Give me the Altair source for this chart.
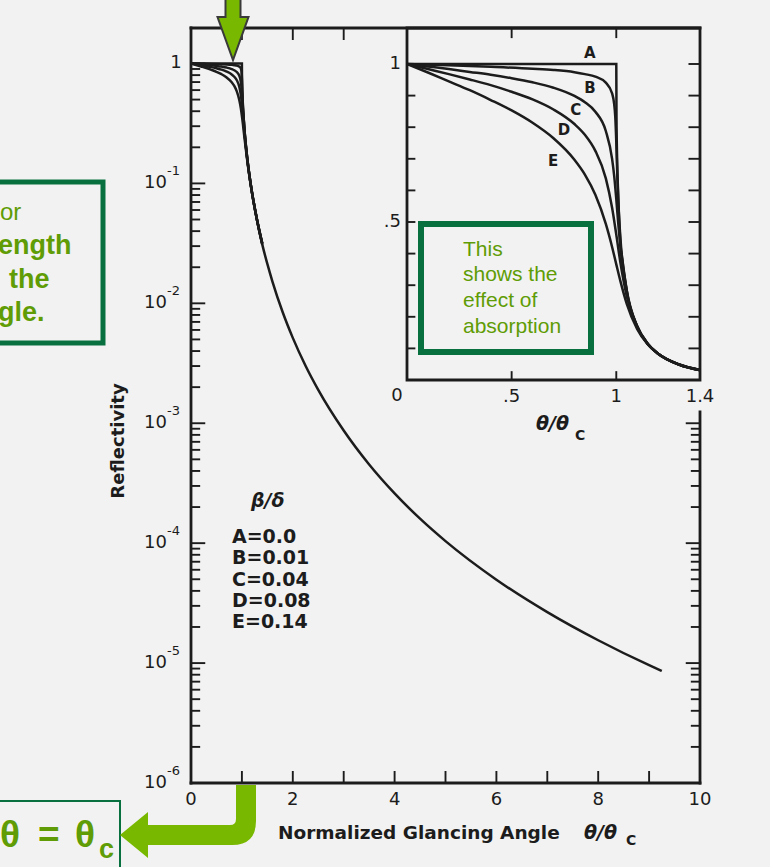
import altair as alt
import pandas as pd

# ---------------------------------------------------------------------------
# Page / plot-area geometry (pixels) and styling
# ---------------------------------------------------------------------------
PAD_L, PAD_T, W, H = 191, 28, 509, 755
INK = "#1c1c1c"
PAPER = "#f2f2f2"
LIME = "#78b800"
TEXT_GREEN = "#5f9c05"
BOX_GREEN = "#08703f"
FIG_FONT = "DejaVu Sans"
NOTE_FONT = "Liberation Sans"
LINE_W = 2.5
FRAME_W = 2.8
TICK_W = 1.9

# ---------------------------------------------------------------------------
# Reflectivity R vs normalized glancing angle theta/theta_c
# (one curve per absorption ratio beta/delta)
# ---------------------------------------------------------------------------
A_THETA = [0.0, 0.5, 1.0, 1.001, 1.003, 1.005, 1.01, 1.02, 1.03, 1.05, 1.1, 1.15, 1.2, 1.3, 1.4]
A_R = [1.0, 1.0, 1.0, 0.83, 0.73, 0.67, 0.57, 0.43, 0.376, 0.284, 0.170, 0.115, 0.083, 0.0487, 0.031]

B_THETA = [0.0, 0.2, 0.4, 0.6, 0.7, 0.8, 0.85, 0.9, 0.95, 0.98, 0.99, 0.995, 1.0, 1.005, 1.01,
           1.02, 1.05, 1.1, 1.15, 1.2, 1.3, 1.4]
B_R = [1.0, 0.996, 0.991, 0.985, 0.981, 0.974, 0.968, 0.960, 0.941, 0.907, 0.873, 0.835, 0.754,
       0.645, 0.559, 0.447, 0.283, 0.170, 0.115, 0.083, 0.0485, 0.031]

C_THETA = [0.0, 0.1, 0.2, 0.3, 0.4, 0.5, 0.6, 0.7, 0.8, 0.85, 0.9, 0.95, 0.98, 0.99, 1.0, 1.01,
           1.02, 1.05, 1.1, 1.15, 1.2, 1.3, 1.4]
C_R = [1.0, 0.992, 0.984, 0.975, 0.966, 0.955, 0.942, 0.925, 0.899, 0.879, 0.849, 0.788, 0.700,
       0.646, 0.572, 0.491, 0.419, 0.278, 0.169, 0.115, 0.0835, 0.049, 0.0315]

D_THETA = [0.0, 0.1, 0.2, 0.3, 0.4, 0.5, 0.6, 0.7, 0.8, 0.85, 0.9, 0.95, 0.98, 1.0, 1.02, 1.05,
           1.1, 1.15, 1.2, 1.3, 1.4]
D_R = [1.0, 0.984, 0.968, 0.951, 0.933, 0.912, 0.888, 0.856, 0.810, 0.776, 0.725, 0.638, 0.545,
       0.460, 0.370, 0.265, 0.166, 0.114, 0.083, 0.049, 0.0315]

E_THETA = [0.0, 0.1, 0.2, 0.3, 0.4, 0.5, 0.6, 0.7, 0.8, 0.85, 0.9, 0.95, 0.98, 1.0, 1.02, 1.05,
           1.1, 1.15, 1.2, 1.3, 1.4]
E_R = [1.0, 0.973, 0.945, 0.917, 0.886, 0.853, 0.814, 0.765, 0.697, 0.650, 0.586, 0.494, 0.421,
       0.366, 0.312, 0.241, 0.161, 0.113, 0.083, 0.049, 0.0316]

# beyond theta ~1.4 all curves coincide
TAIL_THETA = [1.4, 1.5, 1.6, 1.8, 2.0, 2.25, 2.5, 3.0, 3.5, 4.0, 4.5, 5.0, 6.0, 7.0, 8.0, 9.0, 9.25]
TAIL_R = [0.031, 0.0213, 0.0152, 0.00846, 0.00515, 0.00302, 0.0019, 0.00087, 0.000453, 0.00026,
          0.00016, 0.000104, 4.96e-5, 2.66e-5, 1.55e-5, 9.6e-6, 8.6e-6]

CURVES = ["A", "B", "C", "D", "E"]
BETA_DELTA = ["0.0", "0.01", "0.04", "0.08", "0.14"]

# axis tick labels
MAIN_X_LABELS = [0, 2, 4, 6, 8, 10]
MAIN_Y_EXPONENTS = [-1, -2, -3, -4, -5, -6]
INSET_X_LABELS = [".5", "1", "1.4"]
INSET_X_LABEL_AT = [0.5, 1.0, 1.4]

# curve-letter positions inside the inset (theta/theta_c, R)
LETTER_THETA = [0.874, 0.874, 0.806, 0.750, 0.698]
LETTER_R = [1.036, 0.924, 0.854, 0.791, 0.694]

# ---------------------------------------------------------------------------
# Scales: main log plot and linear inset sharing the same canvas
# ---------------------------------------------------------------------------
Y_TOP = 1.977
x_main = alt.Scale(domain=[0, 10], nice=False, zero=False)
y_main = alt.Scale(type="log", domain=[1e-6, Y_TOP], nice=False)
x_in = alt.Scale(domain=[0, 1.4], range=[216, 509], nice=False, zero=False)
y_in = alt.Scale(domain=[0, 1], range=[352, 36], nice=False, zero=False)
IN_TOP = 352 / 316.0  # inset frame top in R units

series = {"A": (A_THETA, A_R), "B": (B_THETA, B_R), "C": (C_THETA, C_R),
          "D": (D_THETA, D_R), "E": (E_THETA, E_R)}
near = pd.concat([pd.DataFrame({"curve": c, "theta": t, "R": r}) for c, (t, r) in series.items()],
                 ignore_index=True)
tail = pd.DataFrame({"curve": "A", "theta": TAIL_THETA[1:], "R": TAIL_R[1:]})
main_df = pd.concat([near, tail], ignore_index=True)

ONE = pd.DataFrame({"k": [0]})


def note(text, px, py, size, color=INK, font=FIG_FONT, weight="normal", align="left",
         style="normal", angle=0, baseline="middle"):
    """Free text placed at absolute page pixel position."""
    kw = dict(text=text, fontSize=size, color=color, font=font, fontWeight=weight,
              align=align, baseline=baseline, fontStyle=style)
    if angle:
        kw["angle"] = angle
    return alt.Chart(ONE).mark_text(**kw).encode(
        x=alt.value(px - PAD_L), y=alt.value(py - PAD_T))


def box(px0, py0, px1, py1, color, width):
    return alt.Chart(ONE).mark_rect(fillOpacity=0, stroke=color, strokeWidth=width).encode(
        x=alt.value(px0 - PAD_L), x2=alt.value(px1 - PAD_L),
        y=alt.value(py0 - PAD_T), y2=alt.value(py1 - PAD_T))


def edge(x0, y0, x1, y1):
    """Straight frame segment in plot-area pixels."""
    return alt.Chart(ONE).mark_rule(color=INK, strokeWidth=FRAME_W, strokeCap="square").encode(
        x=alt.value(x0), x2=alt.value(x1), y=alt.value(y0), y2=alt.value(y1))


def arrow(path, px, py, stroke=None):
    kw = dict(shape=path, size=4, filled=True, fill=LIME, opacity=1, fillOpacity=1)
    if stroke:
        kw.update(stroke=stroke, strokeWidth=2, strokeOpacity=1)
    else:
        kw.update(strokeWidth=0)
    return alt.Chart(ONE).mark_point(**kw).encode(x=alt.value(px - PAD_L), y=alt.value(py - PAD_T))


# ---------------------------------------------------------------------------
# Main log-scale plot
# ---------------------------------------------------------------------------
main_lines = alt.Chart(main_df).mark_line(interpolate="monotone", color=INK, strokeWidth=LINE_W).encode(
    x=alt.X("theta:Q", scale=x_main, axis=None),
    y=alt.Y("R:Q", scale=y_main, axis=None),
    detail="curve:N",
)

log_vals, log_len = [], []
for k in range(-6, 1):
    for m in range(1, 10):
        v = m * 10.0 ** k
        if v <= 1.0 + 1e-9:
            log_vals.append(v)
            log_len.append(0.28 if m == 1 else 0.18)
ticks_df = pd.DataFrame({"v": log_vals, "len": log_len})
ticks_df["x0"] = 0.0
ticks_df["x1"] = ticks_df["len"]
right_df = ticks_df[ticks_df["v"] <= 1.001e-3].copy()
right_df["x0"] = 10.0
right_df["x1"] = 10.0 - right_df["len"]

left_ticks = alt.Chart(ticks_df).mark_rule(color=INK, strokeWidth=TICK_W).encode(
    y=alt.Y("v:Q", scale=y_main, axis=None),
    x=alt.X("x0:Q", scale=x_main, axis=None), x2="x1:Q")
right_ticks = alt.Chart(right_df).mark_rule(color=INK, strokeWidth=TICK_W).encode(
    y=alt.Y("v:Q", scale=y_main, axis=None),
    x=alt.X("x0:Q", scale=x_main, axis=None), x2="x1:Q")

top_ticks = alt.Chart(pd.DataFrame({"t": [1, 2, 3]})).mark_rule(color=INK, strokeWidth=TICK_W).encode(
    x=alt.X("t:Q", scale=x_main, axis=None), y=alt.value(0), y2=alt.value(12))
bottom_ticks = alt.Chart(pd.DataFrame({"t": list(range(1, 10))})).mark_rule(
    color=INK, strokeWidth=TICK_W).encode(
    x=alt.X("t:Q", scale=x_main, axis=None), y=alt.value(H), y2=alt.value(H - 12))

x_labels = alt.Chart(pd.DataFrame({"t": MAIN_X_LABELS, "lab": [str(v) for v in MAIN_X_LABELS]})).mark_text(
    font=FIG_FONT, fontSize=18, color=INK, baseline="middle", align="center").encode(
    x=alt.X("t:Q", scale=x_main, axis=None), y=alt.value(H + 17), text="lab:N")

ydec = pd.DataFrame({"v": [10.0 ** e for e in MAIN_Y_EXPONENTS],
                     "sup": [str(e) for e in MAIN_Y_EXPONENTS]})
y_tens = alt.Chart(ydec).mark_text(font=FIG_FONT, fontSize=18, color=INK, align="right",
                                   baseline="middle", text="10").encode(
    y=alt.Y("v:Q", scale=y_main, axis=None), x=alt.value(-24))
y_sups = alt.Chart(ydec).mark_text(font=FIG_FONT, fontSize=13, color=INK, align="left",
                                   baseline="middle", dy=-12).encode(
    y=alt.Y("v:Q", scale=y_main, axis=None), x=alt.value(-24), text="sup:N")
y_one = alt.Chart(pd.DataFrame({"v": [1.0]})).mark_text(
    font=FIG_FONT, fontSize=18, color=INK, align="center", baseline="middle", text="1").encode(
    y=alt.Y("v:Q", scale=y_main, axis=None), x=alt.value(-15))

# beta/delta key, one row per curve
legend = [note(f"{c}={b}", 232, 537 + 21.25 * i, 19, weight="bold")
          for i, (c, b) in enumerate(zip(CURVES, BETA_DELTA))]

frame = alt.layer(
    edge(0, 0, W, 0), edge(0, H, W, H), edge(0, 0, 0, H), edge(W, 384, W, H),
)

main_group = alt.layer(
    main_lines, left_ticks, right_ticks, top_ticks, bottom_ticks, frame,
    x_labels, y_tens, y_sups, y_one,
    note("Reflectivity", 119, 441, 18, weight="bold", align="center", angle=270),
    note("Normalized Glancing Angle", 278, 833, 18.5, weight="bold"),
    note("\u03b8/\u03b8", 584, 833, 19, weight="bold", style="italic"),
    note("C", 626, 841, 14, weight="bold"),
    note("\u03b2/\u03b4", 251, 501, 19, weight="bold", style="italic"),
    *legend,
)

# ---------------------------------------------------------------------------
# Inset: linear scale close to the critical angle
# ---------------------------------------------------------------------------
in_frame = alt.Chart(pd.DataFrame({"x0": [0.0], "x1": [1.4], "y0": [0.0], "y1": [IN_TOP]})).mark_rect(
    fillOpacity=0, stroke=INK, strokeWidth=FRAME_W).encode(
    x=alt.X("x0:Q", scale=x_in, axis=None), x2="x1:Q",
    y=alt.Y("y0:Q", scale=y_in, axis=None), y2="y1:Q")

in_lines = alt.Chart(near).mark_line(interpolate="monotone", color=INK, strokeWidth=LINE_W).encode(
    x=alt.X("theta:Q", scale=x_in, axis=None),
    y=alt.Y("R:Q", scale=y_in, axis=None),
    detail="curve:N")

lin_vals = [round(0.1 * i, 1) for i in range(1, 11)]
in_left = alt.Chart(pd.DataFrame({"v": lin_vals, "x0": 0.0, "x1": 0.04})).mark_rule(
    color=INK, strokeWidth=TICK_W).encode(
    y=alt.Y("v:Q", scale=y_in, axis=None), x=alt.X("x0:Q", scale=x_in, axis=None), x2="x1:Q")
in_right = alt.Chart(pd.DataFrame({"v": lin_vals, "x0": 1.4, "x1": 1.345})).mark_rule(
    color=INK, strokeWidth=TICK_W).encode(
    y=alt.Y("v:Q", scale=y_in, axis=None), x=alt.X("x0:Q", scale=x_in, axis=None), x2="x1:Q")
in_top = alt.Chart(pd.DataFrame({"t": [0.5, 1.0], "y0": IN_TOP, "y1": IN_TOP - 0.032})).mark_rule(
    color=INK, strokeWidth=TICK_W).encode(
    x=alt.X("t:Q", scale=x_in, axis=None), y=alt.Y("y0:Q", scale=y_in, axis=None), y2="y1:Q")
in_bottom = alt.Chart(pd.DataFrame({"t": [0.5, 1.0], "y0": 0.0, "y1": 0.028})).mark_rule(
    color=INK, strokeWidth=TICK_W).encode(
    x=alt.X("t:Q", scale=x_in, axis=None), y=alt.Y("y0:Q", scale=y_in, axis=None), y2="y1:Q")

in_xlab = alt.Chart(pd.DataFrame({"t": INSET_X_LABEL_AT, "lab": INSET_X_LABELS, "y": 0.0})).mark_text(
    font=FIG_FONT, fontSize=18, color=INK, align="center", baseline="middle", dy=17).encode(
    x=alt.X("t:Q", scale=x_in, axis=None), y=alt.Y("y:Q", scale=y_in, axis=None), text="lab:N")
in_zero = alt.Chart(pd.DataFrame({"t": [0.0], "y": [0.0]})).mark_text(
    font=FIG_FONT, fontSize=18, color=INK, align="center", baseline="middle", dx=-10, dy=16,
    text="0").encode(x=alt.X("t:Q", scale=x_in, axis=None), y=alt.Y("y:Q", scale=y_in, axis=None))
in_ylab = alt.Chart(pd.DataFrame({"t": [0.0, 0.0], "y": [1.0, 0.5], "lab": ["1", ".5"]})).mark_text(
    font=FIG_FONT, fontSize=18, color=INK, align="right", baseline="middle", dx=-6).encode(
    x=alt.X("t:Q", scale=x_in, axis=None), y=alt.Y("y:Q", scale=y_in, axis=None), text="lab:N")

letters = alt.Chart(pd.DataFrame({"t": LETTER_THETA, "y": LETTER_R, "lab": CURVES})).mark_text(
    font=FIG_FONT, fontSize=15, fontWeight="bold", color=INK, align="center", baseline="middle").encode(
    x=alt.X("t:Q", scale=x_in, axis=None), y=alt.Y("y:Q", scale=y_in, axis=None), text="lab:N")

inset_group = alt.layer(
    in_frame, in_lines, in_left, in_right, in_top, in_bottom, in_xlab, in_zero, in_ylab, letters,
    note("\u03b8/\u03b8", 536, 424, 19, weight="bold", style="italic"),
    note("C", 575, 436, 14, weight="bold"),
)

# ---------------------------------------------------------------------------
# Green call-outs
# ---------------------------------------------------------------------------
TOP_ARROW = "M -7.5 -4 L 7.5 -4 L 7.5 17 L 15.5 17 L 0 60 L -15.5 17 L -7.5 17 Z"
BEND_ARROW = ("M -10 2 L 10 2 L 10 38 Q 10 62 -14 62 L -98 62 L -98 75 L -126 52 L -98 29 "
              "L -98 42 L -16 42 Q -10 42 -10 36 Z")

callouts = alt.layer(
    box(-10, 182, 103, 343, BOX_GREEN, 5),
    note("or", 0, 213, 24, color=TEXT_GREEN, font=NOTE_FONT),
    note("ength", -2, 246, 27, color=TEXT_GREEN, font=NOTE_FONT, weight="bold"),
    note("the", 9, 280, 27, color=TEXT_GREEN, font=NOTE_FONT, weight="bold"),
    note("gle.", -2, 313, 27, color=TEXT_GREEN, font=NOTE_FONT, weight="bold"),
    box(421, 224, 591, 352, BOX_GREEN, 6),
    note("This", 463, 250, 21, color=TEXT_GREEN, font=NOTE_FONT),
    note("shows the", 463, 275, 21, color=TEXT_GREEN, font=NOTE_FONT),
    note("effect of", 463, 301, 21, color=TEXT_GREEN, font=NOTE_FONT),
    note("absorption", 463, 327, 21, color=TEXT_GREEN, font=NOTE_FONT),
    box(-10, 801, 120, 890, BOX_GREEN, 2),
    note("\u03b8", 0, 836, 37, color=TEXT_GREEN, font=NOTE_FONT, weight="bold"),
    note("=", 38, 836, 37, color=TEXT_GREEN, font=NOTE_FONT, weight="bold"),
    note("\u03b8", 75, 836, 37, color=TEXT_GREEN, font=NOTE_FONT, weight="bold"),
    note("c", 99, 850, 27, color=TEXT_GREEN, font=NOTE_FONT, weight="bold"),
    arrow(TOP_ARROW, 233, 0, stroke="#3a3a3a"),
    arrow(BEND_ARROW, 246, 783),
)

chart = alt.layer(
    alt.layer(main_group, callouts), inset_group
).resolve_scale(x="independent", y="independent").properties(
    width=W, height=H,
    padding={"left": PAD_L, "top": PAD_T, "right": 770 - PAD_L - W, "bottom": 867 - PAD_T - H},
    autosize=alt.AutoSizeParams(type="none"),
    background=PAPER,
).configure_view(strokeWidth=0)

chart.save("out.html", embed_options={"renderer": "svg", "actions": False})
